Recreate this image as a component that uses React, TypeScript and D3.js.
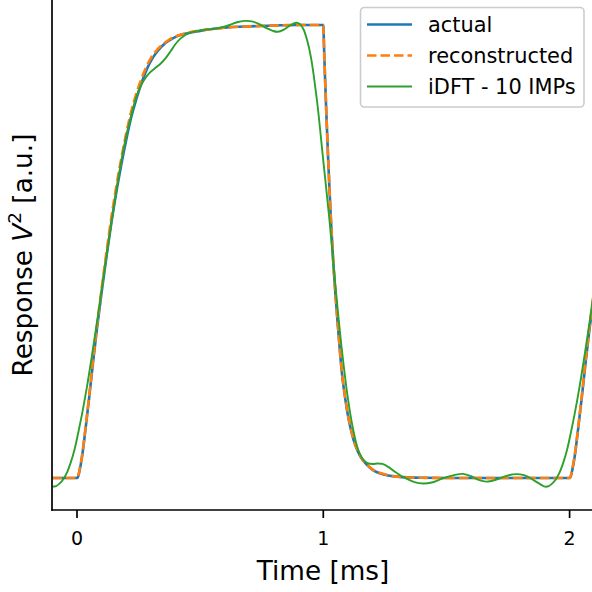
import React from "react";
import * as d3 from "d3";

const xTicks = [0, 1, 2];

const actualTime = [-0.1, 0, 0.005, 0.01, 0.02, 0.035, 0.05, 0.065, 0.08, 0.1, 0.12, 0.14, 0.16, 0.18, 0.2, 0.22, 0.24, 0.26, 0.28, 0.3, 0.325, 0.35, 0.375, 0.41, 0.45, 0.5, 0.55, 0.62, 0.7, 0.8, 0.9, 1.0,
  1.003, 1.007, 1.012, 1.02, 1.03, 1.04, 1.05, 1.06, 1.075, 1.09, 1.1, 1.115, 1.13, 1.15, 1.175, 1.2, 1.25, 1.3, 1.4, 1.5, 2.0,
  2.005, 2.01, 2.02, 2.035, 2.05, 2.065, 2.08, 2.1];
const actualValue = [0, 0, 0.004, 0.015, 0.045, 0.11, 0.18, 0.255, 0.325, 0.41, 0.49, 0.565, 0.632, 0.692, 0.747, 0.796, 0.835, 0.869, 0.898, 0.921, 0.941, 0.956, 0.966, 0.976, 0.982, 0.987, 0.991, 0.995, 0.997, 0.999, 1.0, 1.0,
  0.95, 0.885, 0.81, 0.7, 0.58, 0.48, 0.4, 0.33, 0.235, 0.172, 0.138, 0.1, 0.072, 0.048, 0.03, 0.018, 0.007, 0.003, 0.0005, 0, 0,
  0.004, 0.015, 0.045, 0.11, 0.18, 0.255, 0.325, 0.41];

const reconTime = [-0.1, 0, 0.005, 0.01, 0.02, 0.035, 0.05, 0.065, 0.08, 0.1, 0.12, 0.14, 0.16, 0.18, 0.2, 0.22, 0.24, 0.26, 0.28, 0.3, 0.325, 0.35, 0.375, 0.41, 0.45, 0.5, 0.55, 0.62, 0.7, 0.8, 0.9, 1.0,
  1.003, 1.007, 1.012, 1.02, 1.03, 1.04, 1.05, 1.06, 1.075, 1.09, 1.1, 1.115, 1.13, 1.15, 1.175, 1.2, 1.25, 1.3, 1.4, 1.5, 2.0,
  2.005, 2.01, 2.02, 2.035, 2.05, 2.065, 2.08, 2.1];
const reconValue = [0, 0, 0.005, 0.017, 0.048, 0.113, 0.184, 0.26, 0.331, 0.418, 0.5, 0.577, 0.645, 0.706, 0.761, 0.809, 0.847, 0.879, 0.906, 0.927, 0.945, 0.958, 0.968, 0.977, 0.983, 0.988, 0.991, 0.995, 0.997, 0.999, 1.0, 1.0,
  0.95, 0.886, 0.812, 0.702, 0.582, 0.482, 0.402, 0.332, 0.237, 0.174, 0.14, 0.102, 0.074, 0.049, 0.031, 0.019, 0.008, 0.003, 0.0005, 0, 0,
  0.005, 0.017, 0.048, 0.113, 0.184, 0.26, 0.331, 0.418];

const idftTime = [-0.1, -0.085, -0.07, -0.055, -0.04, -0.025, -0.01, 0.005, 0.02, 0.04, 0.06, 0.08, 0.1, 0.12, 0.14, 0.16, 0.18, 0.2, 0.22, 0.24, 0.26, 0.28, 0.3, 0.32, 0.34, 0.36, 0.38, 0.4, 0.42, 0.44, 0.46, 0.5, 0.54, 0.58, 0.62, 0.65, 0.68, 0.71, 0.74, 0.77, 0.795, 0.815, 0.84, 0.865, 0.89, 0.905, 0.92, 0.935, 0.95, 0.975, 1.0, 1.025, 1.05, 1.075, 1.1, 1.12, 1.14, 1.16, 1.18, 1.2, 1.22, 1.24, 1.265, 1.29, 1.315, 1.34, 1.37, 1.405, 1.44, 1.47, 1.5, 1.535, 1.567, 1.6, 1.63, 1.662, 1.7, 1.74, 1.77, 1.8, 1.83, 1.86, 1.885, 1.9, 1.915, 1.93, 1.945, 1.96, 1.975, 1.99, 2.005, 2.02, 2.04, 2.06, 2.08, 2.1];
const idftValue = [-0.019, -0.018, -0.012, -0.002, 0.013, 0.035, 0.063, 0.1, 0.14, 0.2, 0.268, 0.34, 0.415, 0.49, 0.565, 0.635, 0.7, 0.755, 0.8, 0.84, 0.867, 0.885, 0.897, 0.906, 0.915, 0.927, 0.942, 0.958, 0.97, 0.978, 0.983, 0.988, 0.991, 0.994, 1.0, 1.006, 1.009, 1.008, 1.002, 0.993, 0.987, 0.985, 0.99, 0.999, 1.005, 1.002, 0.99, 0.965, 0.928, 0.83, 0.7, 0.57, 0.42, 0.285, 0.175, 0.11, 0.065, 0.042, 0.033, 0.031, 0.032, 0.031, 0.024, 0.014, 0.005, -0.002, -0.009, -0.012, -0.01, -0.004, 0.002, 0.007, 0.009, 0.004, -0.004, -0.008, -0.004, 0.004, 0.008, 0.008, 0.003, -0.007, -0.015, -0.019, -0.018, -0.012, -0.002, 0.013, 0.035, 0.063, 0.1, 0.14, 0.2, 0.268, 0.34, 0.415];

const legendLabels = ["actual", "reconstructed", "iDFT - 10 IMPs"];
const colors = ["#1f77b4", "#ff7f0e", "#2ca02c"];

const W = 592, H = 592;
const left = 52, right = 592, top = 0, bottom = 510;
const FONT = "DejaVu Sans, sans-serif";

export default function App() {
  const x = d3.scaleLinear().domain([0, 1]).range([77, 323.3]);
  const y = d3.scaleLinear().domain([0, 1]).range([478, 25]);

  const toPts = (t: number[], v: number[]) => t.map((tt, i) => [tt, v[i]] as [number, number]);
  const lineMono = d3.line<[number, number]>().x(d => x(d[0])).y(d => y(d[1])).curve(d3.curveMonotoneX);
  const lineSmooth = d3.line<[number, number]>().x(d => x(d[0])).y(d => y(d[1])).curve(d3.curveCatmullRom.alpha(0.5));

  const actualPath = lineMono(toPts(actualTime, actualValue)) || "";
  const reconPath = lineMono(toPts(reconTime, reconValue)) || "";
  const idftPath = lineSmooth(toPts(idftTime, idftValue)) || "";

  const legendY = [24.5, 55.5, 86.5];

  return (
    <svg width={W} height={H} style={{ position: "absolute", left: 0, top: 0, background: "#fff" }} fontFamily={FONT}>
      <defs>
        <clipPath id="plot">
          <rect x={left} y={top} width={right - left} height={bottom - top} />
        </clipPath>
      </defs>
      <rect x={0} y={0} width={W} height={H} fill="#fff" />
      <g clipPath="url(#plot)" fill="none">
        <path d={actualPath} stroke={colors[0]} strokeWidth={2.6} />
        <path d={reconPath} stroke={colors[1]} strokeWidth={2.6} strokeDasharray="9.5,4" />
        <path d={idftPath} stroke={colors[2]} strokeWidth={1.9} />
      </g>
      {/* spines */}
      <line x1={left} x2={left} y1={top} y2={bottom + 0.8} stroke="#000" strokeWidth={1.7} />
      <line x1={left - 0.8} x2={right} y1={bottom} y2={bottom} stroke="#000" strokeWidth={1.7} />
      {xTicks.map(t => (
        <g key={t}>
          <line x1={x(t)} x2={x(t)} y1={bottom} y2={bottom + 8} stroke="#000" strokeWidth={1.7} />
          <text x={x(t)} y={545} textAnchor="middle" fontSize={19} fill="#000">{t}</text>
        </g>
      ))}
      <text x={323} y={580} textAnchor="middle" fontSize={26.3} fill="#000">Time [ms]</text>
      <text transform="translate(32,255) rotate(-90)" textAnchor="middle" fontSize={26.3} fill="#000">
        Response <tspan fontStyle="italic">V</tspan><tspan fontSize={18.5} dy={-11}>2</tspan><tspan dy={11}> [a.u.]</tspan>
      </text>
      {/* legend */}
      <rect x={360.5} y={7.5} width={223.5} height={99.5} rx={4} fill="#fff" fillOpacity={0.8} stroke="#cccccc" strokeWidth={1.6} />
      {legendLabels.map((lab, i) => (
        <g key={lab}>
          <line x1={367} x2={412} y1={legendY[i]} y2={legendY[i]} stroke={colors[i]}
            strokeWidth={i === 2 ? 1.9 : 2.6} strokeDasharray={i === 1 ? "9.5,4" : undefined} />
          <text x={428} y={legendY[i] + 7.5} fontSize={20.9} fill="#000">{lab}</text>
        </g>
      ))}
    </svg>
  );
}
